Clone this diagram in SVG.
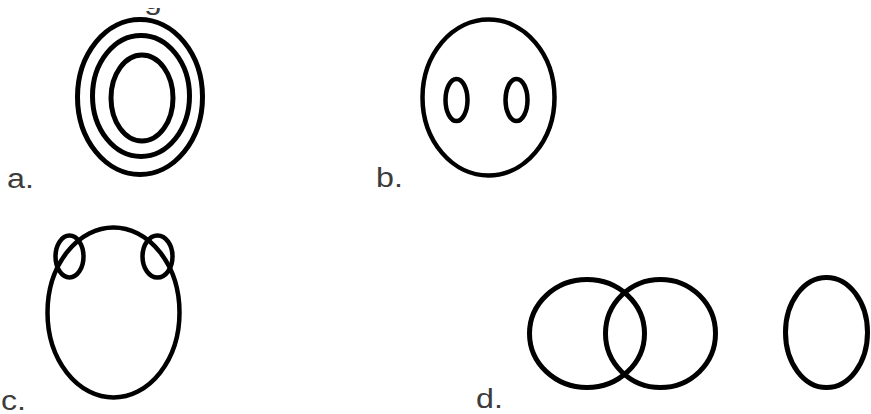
<svg xmlns="http://www.w3.org/2000/svg" width="871" height="414" viewBox="0 0 871 414">
<style>
.s{fill:none;stroke:#000;stroke-width:5}
.t{stroke-width:4.5}
.lbl{font-family:"Liberation Sans",Arial,sans-serif;font-size:28px;fill:#3c3c3c}
</style>
<defs>
<clipPath id="gc"><rect x="130" y="8" width="50" height="10"/></clipPath>
</defs>
<rect width="871" height="414" fill="#fff"/>
<g id="fragment" clip-path="url(#gc)"><text class="lbl" transform="translate(144,9) scale(1.15,1)">g</text></g>
<g id="a">
<ellipse class="s" cx="140" cy="97" rx="62.5" ry="77.5"/>
<ellipse class="s" cx="141" cy="96" rx="48.5" ry="60.5"/>
<ellipse class="s" cx="142" cy="98" rx="31" ry="43"/>
<text class="lbl" transform="translate(7,188) scale(1.15,1)">a.</text>
</g>
<g id="b">
<ellipse class="s t" cx="488.5" cy="97.5" rx="66" ry="78"/>
<ellipse class="s t" cx="456.5" cy="100" rx="11" ry="21"/>
<ellipse class="s t" cx="516.5" cy="100" rx="11" ry="21"/>
<text class="lbl" transform="translate(376,187) scale(1.15,1)">b.</text>
</g>
<g id="c">
<ellipse class="s t" cx="113.5" cy="312.5" rx="66" ry="85"/>
<ellipse class="s t" cx="69.5" cy="256.5" rx="14" ry="21"/>
<ellipse class="s t" cx="157.5" cy="256.5" rx="15" ry="21"/>
<text class="lbl" transform="translate(1,410) scale(1.15,1)">c.</text>
</g>
<g id="d">
<ellipse class="s" cx="587" cy="333.5" rx="57.5" ry="54"/>
<ellipse class="s" cx="660.5" cy="333.5" rx="55" ry="54"/>
<ellipse class="s" cx="826.5" cy="332.5" rx="41" ry="55"/>
<text class="lbl" transform="translate(476,408) scale(1.15,1)">d.</text>
</g>
</svg>
